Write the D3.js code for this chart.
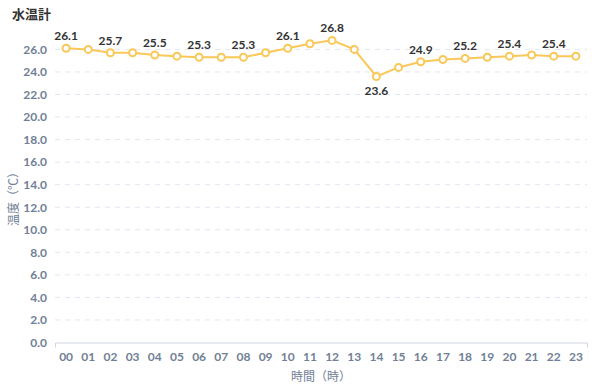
<!DOCTYPE html>
<html><head><meta charset="utf-8">
<script src="https://cdn.jsdelivr.net/npm/d3@7"></script>
<style>body{margin:0;background:#fff}svg{display:block;font-family:Lato,"Noto Sans CJK JP",sans-serif}</style>
</head><body><svg id="c" width="600" height="390"></svg>
<script>
const hours = ["00","01","02","03","04","05","06","07","08","09","10","11","12","13","14","15","16","17","18","19","20","21","22","23"];
const temps = [26.1,26.0,25.7,25.7,25.5,25.4,25.3,25.3,25.3,25.7,26.1,26.5,26.8,26.0,23.6,24.4,24.9,25.1,25.2,25.3,25.4,25.5,25.4,25.4];
const yTicks = [0,2,4,6,8,10,12,14,16,18,20,22,24,26];
const title = "水温計", xTitle = "時間（時）", yTitle = "温度（℃）";

const svg = d3.select("#c");
const L = 55, R = 587, B = 342.5, T = 49.4;
const x = d3.scaleBand().domain(hours).range([L, R]);
const y = d3.scaleLinear().domain([0, 26]).range([B, T]);
const cx = d => x(d) + x.bandwidth()/2;

svg.append("text").attr("x",12).attr("y",19).text(title)
  .attr("font-size",13).attr("font-weight","bold").attr("fill","#333");

// grid
svg.append("g").selectAll("line").data(yTicks.filter(v=>v>0)).join("line")
  .attr("x1",L).attr("x2",R).attr("y1",d=>y(d)).attr("y2",d=>y(d))
  .attr("stroke","#e0e6f1").attr("stroke-dasharray","5,5");

// y axis
const ya = svg.append("g").attr("transform",`translate(${L},0)`)
  .call(d3.axisLeft(y).tickValues(yTicks).tickFormat(d3.format(".1f")).tickSize(0).tickPadding(8));
ya.select(".domain").remove();
ya.selectAll("text").attr("font-size",12).attr("font-weight","bold").attr("fill","#718096").attr("font-family","Lato");

// x axis
const xa = svg.append("g").attr("transform",`translate(0,${B})`)
  .call(d3.axisBottom(x).tickSize(0).tickPadding(8).tickSizeOuter(5));
xa.select(".domain").attr("stroke","#d0d6de");
xa.selectAll("text").attr("font-size",12).attr("font-weight","bold").attr("fill","#718096").attr("font-family","Lato").attr("dy","0.9em");

svg.append("text").attr("x",(L+R)/2).attr("y",381).attr("text-anchor","middle")
  .text(xTitle).attr("font-size",12).attr("fill","#718096");
svg.append("text").attr("transform",`translate(18,196) rotate(-90)`).attr("text-anchor","middle")
  .text(yTitle).attr("font-size",12).attr("fill","#718096");

const line = d3.line().x((d,i)=>cx(hours[i])).y(d=>y(d));
svg.append("path").datum(temps).attr("d",line).attr("fill","none")
  .attr("stroke","#fac858").attr("stroke-width",2);
svg.append("g").selectAll("circle").data(temps).join("circle")
  .attr("cx",(d,i)=>cx(hours[i])).attr("cy",d=>y(d)).attr("r",3.5)
  .attr("fill","#fff").attr("stroke","#fac858").attr("stroke-width",2);

const minI = temps.indexOf(d3.min(temps));
svg.append("g").selectAll("text").data(temps.map((v,i)=>({v,i})).filter(d=>d.i%2===0)).join("text")
  .attr("x",d=>cx(hours[d.i])).attr("y",d=>d.i===minI ? y(d.v)+19 : y(d.v)-8)
  .attr("text-anchor","middle").text(d=>d.v.toFixed(1))
  .attr("font-size",12).attr("font-weight","bold").attr("fill","#333").attr("font-family","Lato");
</script></body></html>
